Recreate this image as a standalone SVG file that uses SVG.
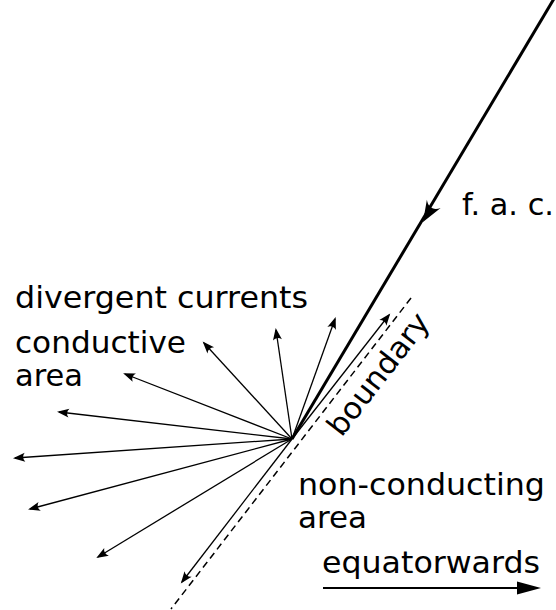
<svg xmlns="http://www.w3.org/2000/svg" width="556" height="610" viewBox="0 0 556 610">
  <style>
    text { font-family: "DejaVu Sans", "Liberation Sans", sans-serif; font-size: 30px; fill: #000; }
    .thin { stroke: #000; stroke-width: 1.3; fill: none; marker-end: url(#ah); }
    .thick { stroke: #000; stroke-width: 3; fill: none; }
    .dash { stroke: #000; stroke-width: 1.5; fill: none; stroke-dasharray: 7 4.5; }
  </style>
  <defs>
    <marker id="ah" viewBox="-12 -6 15 12" refX="0" refY="0" markerWidth="15" markerHeight="12" markerUnits="userSpaceOnUse" orient="auto">
      <path d="M2,0 L-10,-4.5 C-7.5,-1.5 -7.5,1.5 -10,4.5 Z" fill="#000"/>
    </marker>
  </defs>

  <g id="connectors">
    <line class="thick" x1="292" y1="439" x2="555" y2="-3"/>
    <path d="M0,0 L-21,-8 C-15,-3 -15,3 -21,8 Z" fill="#000" transform="translate(423,222) rotate(120.8)"/>
    <line class="dash" x1="411" y1="298" x2="171" y2="609"/>
    <line class="thin" x1="292" y1="439" x2="389" y2="315"/>
    <line class="thin" x1="292" y1="439" x2="335" y2="319"/>
    <line class="thin" x1="292" y1="439" x2="276" y2="330"/>
    <line class="thin" x1="292" y1="439" x2="204" y2="343"/>
    <line class="thin" x1="292" y1="439" x2="125" y2="374"/>
    <line class="thin" x1="292" y1="439" x2="59" y2="412"/>
    <line class="thin" x1="292" y1="439" x2="15" y2="458"/>
    <line class="thin" x1="292" y1="439" x2="30" y2="509"/>
    <line class="thin" x1="292" y1="439" x2="98" y2="557"/>
    <line class="thin" x1="292" y1="439" x2="182" y2="582"/>
    <line x1="323" y1="588" x2="520" y2="588" stroke="#000" stroke-width="2"/>
    <path d="M517,581.5 L541,588 L517,594.5 Z" fill="#000"/>
  </g>

  <g id="fac"><text x="462" y="215" textLength="92" lengthAdjust="spacingAndGlyphs">f. a. c.</text></g>
  <g id="divergent-currents"><text x="15" y="308" textLength="293" lengthAdjust="spacingAndGlyphs">divergent currents</text></g>
  <g id="conductive-area">
    <text x="15" y="353" textLength="171" lengthAdjust="spacingAndGlyphs">conductive</text>
    <text x="15" y="386" textLength="68" lengthAdjust="spacingAndGlyphs">area</text>
  </g>
  <g id="boundary"><text x="0" y="0" textLength="146" lengthAdjust="spacingAndGlyphs" transform="translate(341.5,438) rotate(-52.2)">boundary</text></g>
  <g id="non-conducting-area">
    <text x="298" y="495" textLength="247" lengthAdjust="spacingAndGlyphs">non-conducting</text>
    <text x="298" y="528" textLength="69" lengthAdjust="spacingAndGlyphs">area</text>
  </g>
  <g id="equatorwards"><text x="322" y="573" textLength="218" lengthAdjust="spacingAndGlyphs">equatorwards</text></g>
</svg>
